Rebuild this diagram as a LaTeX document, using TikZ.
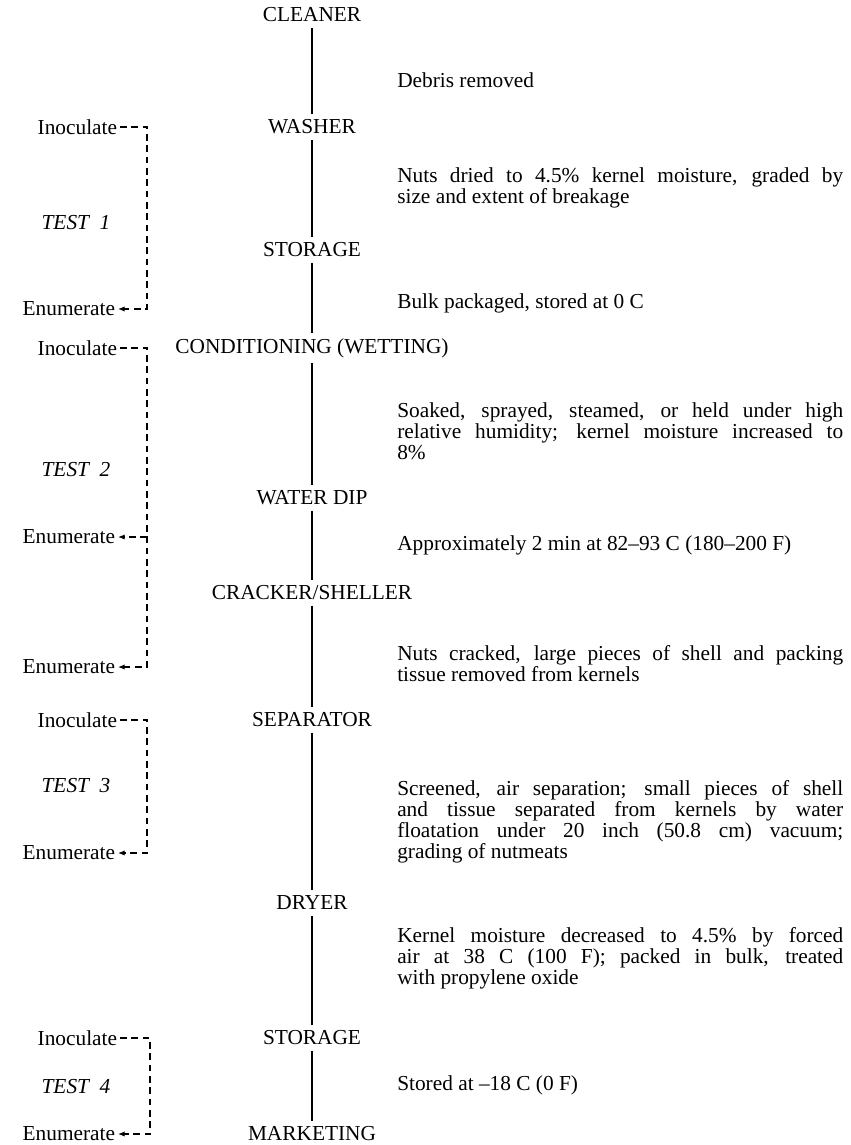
\documentclass[tikz,border=0pt]{standalone}
\usepackage{fontspec}
\setmainfont{Liberation Serif}
\usetikzlibrary{arrows.meta,positioning}

\begin{document}
\begin{tikzpicture}
  [x=0.75pt,y=-0.75pt,
   every node/.style={font=\fontsize{16}{15.75}\selectfont},
   stage/.style={inner sep=4pt},
   note/.style={anchor=west,inner sep=0pt,text width=334.5pt,align=justify},
   side/.style={anchor=east,inner sep=2pt},
   test/.style={font=\fontsize{16}{15.75}\selectfont\itshape},
   flow/.style={line width=1.1pt},
   probe/.style={dash pattern=on 5pt off 3.5pt,line width=0.9pt},
   back/.style={probe,-{Latex[length=5pt,width=4pt]}}]
  \useasboundingbox (0,0) rectangle (850,1145);

  % process stages
  \node[stage] (cleaner) at (312,15) {CLEANER};
  \node[stage] (washer) at (312,127) {WASHER};
  \node[stage] (storA) at (312,250) {STORAGE};
  \node[stage] (cond) at (312,348) {CONDITIONING (WETTING)};
  \node[stage] (wdip) at (312,498) {WATER DIP};
  \node[stage] (cracker) at (312,593) {CRACKER/SHELLER};
  \node[stage] (sep) at (312,720) {SEPARATOR};
  \node[stage] (dryer) at (312,903) {DRYER};
  \node[stage] (storB) at (312,1038) {STORAGE};
  \node[stage] (market) at (312,1134) {MARKETING};
  \foreach \from/\to in {cleaner/washer,washer/storA,storA/cond,cond/wdip,wdip/cracker,
                         cracker/sep,sep/dryer,dryer/storB,storB/market}
    \draw[flow] (\from) -- (\to);

  % what happens in between
  \node[note] (dA) at (397,80) {Debris removed};
  \node[note] (dB) at (397,188) {Nuts dried to 4.5\% kernel moisture, graded by\linebreak size and extent of breakage};
  \node[note] (dC) at (397,303) {Bulk packaged, stored at 0 C};
  \node[note] (dD) at (397,431) {Soaked, sprayed, steamed, or held under high\linebreak relative humidity; kernel moisture increased to\linebreak 8\%};
  \node[note] (dE) at (397,545) {Approximately 2 min at 82\textendash93 C (180\textendash200 F)};
  \node[note] (dF) at (397,664) {Nuts cracked, large pieces of shell and packing\linebreak tissue removed from kernels};
  \node[note] (dG) at (397,822) {Screened, air separation; small pieces of shell\linebreak and tissue separated from kernels by water\linebreak floatation under 20 inch (50.8 cm) vacuum;\linebreak grading of nutmeats};
  \node[note] (dH) at (397,958) {Kernel moisture decreased to 4.5\% by forced\linebreak air at 38 C (100 F); packed in bulk, treated\linebreak with propylene oxide};
  \node[note] (dI) at (397,1085) {Stored at\ \textendash18 C (0 F)};

  % tests
  \coordinate (barA) at (147,0);
  \coordinate (barB) at (150,0);

  \node[side] (inocA) at (120,127) {Inoculate};
  \node[test] (testA) at (76,223) {TEST\enspace 1};
  \node[side] (enumA) at (118,309) {Enumerate};
  \draw[back] (inocA.east) -- (inocA.east -| barA) |- (enumA.east);

  \node[side] (inocB) at (120,348) {Inoculate};
  \node[test] (testB) at (76,470) {TEST\enspace 2};
  \node[side] (enumB) at (118,537) {Enumerate};
  \node[side] (enumC) at (118,667) {Enumerate};
  \draw[back] (inocB.east) -- (inocB.east -| barA) |- (enumC.east);
  \draw[back] (enumB.east -| barA) -- (enumB.east);

  \node[side] (inocC) at (120,720) {Inoculate};
  \node[test] (testC) at (76,786) {TEST\enspace 3};
  \node[side] (enumD) at (118,853) {Enumerate};
  \draw[back] (inocC.east) -- (inocC.east -| barA) |- (enumD.east);

  \node[side] (inocD) at (120,1038) {Inoculate};
  \node[test] (testD) at (76,1087) {TEST\enspace 4};
  \node[side] (enumE) at (118,1134) {Enumerate};
  \draw[back] (inocD.east) -- (inocD.east -| barB) |- (enumE.east);
\end{tikzpicture}
\end{document}
